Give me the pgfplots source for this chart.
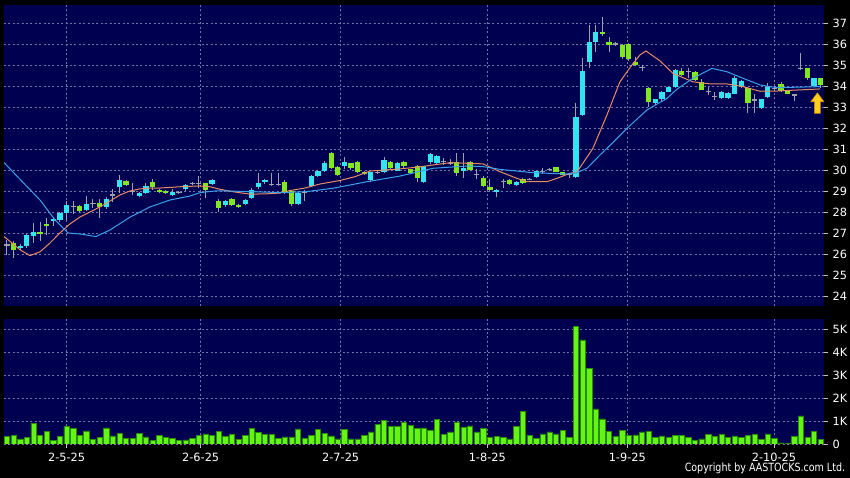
\documentclass[border=0pt]{standalone}
\usepackage{graphicx}
\usepackage{pgfplots}
\pgfplotsset{compat=1.18}
\usepackage{pgfplotstable}
\usepackage{fontspec}
\setmainfont{DejaVu Sans}
\definecolor{navy}{RGB}{0,0,80}
\definecolor{cyanC}{RGB}{50,228,240}
\definecolor{limeC}{RGB}{128,232,32}
\definecolor{wick}{RGB}{160,160,170}
\definecolor{gridc}{RGB}{115,115,165}
\definecolor{maO}{RGB}{232,140,100}
\definecolor{maB}{RGB}{60,160,235}
\definecolor{volG}{RGB}{100,245,20}
\definecolor{volE}{RGB}{40,140,0}
\definecolor{arrowY}{RGB}{255,205,30}
\definecolor{arrowO}{RGB}{200,130,0}

\pgfplotstableread{
i O H L C
0 26.43 26.67 25.95 26.43
1 26.54 26.62 25.80 26.19
2 26.30 26.45 26.20 26.40
3 26.37 26.95 26.30 26.88
4 26.86 27.46 26.50 27.03
5 27.06 27.50 26.60 26.98
6 27.44 27.70 26.90 27.35
7 27.56 27.75 27.35 27.68
8 27.60 28.00 27.50 27.94
9 27.95 28.52 27.62 28.33
10 28.25 28.52 27.90 28.25
11 28.29 28.35 27.95 28.05
12 28.10 28.76 28.05 28.37
13 28.41 28.60 28.20 28.41
14 28.41 28.60 27.70 28.22
15 28.22 28.70 28.15 28.62
16 28.81 29.08 28.49 28.81
17 29.17 29.76 28.89 29.52
18 29.46 29.50 29.25 29.28
19 28.97 29.37 28.81 28.97
20 28.77 28.95 28.70 28.89
21 28.89 29.40 28.85 29.25
22 29.41 29.55 29.05 29.21
23 29.06 29.10 28.90 28.96
24 29.02 29.05 28.85 28.90
25 28.82 29.10 28.78 28.96
26 28.92 29.00 28.85 28.92
27 29.07 29.33 29.00 29.28
28 29.37 29.42 29.30 29.37
29 29.37 29.71 29.13 29.37
30 29.37 29.40 28.67 29.06
31 29.31 29.58 29.27 29.50
32 28.52 28.60 28.00 28.21
33 28.31 28.55 28.25 28.50
34 28.60 28.65 28.30 28.33
35 28.33 28.36 28.18 28.22
36 28.37 28.62 28.33 28.57
37 28.65 29.15 28.60 29.05
38 29.18 29.84 29.10 29.37
39 29.41 29.55 29.35 29.50
40 29.29 29.84 29.25 29.29
41 29.30 29.84 29.25 29.30
42 29.44 29.50 28.85 28.89
43 29.02 29.05 28.29 28.39
44 28.38 29.00 28.35 28.89
45 28.94 29.05 28.50 28.94
46 29.22 29.75 29.20 29.71
47 29.71 30.00 29.68 29.95
48 29.95 30.45 29.90 30.32
49 30.79 30.85 30.05 30.10
50 30.16 30.20 29.70 29.76
51 30.20 30.60 30.05 30.37
52 30.32 30.35 30.00 30.08
53 30.40 30.45 29.85 29.89
54 29.92 29.95 29.75 29.80
55 29.50 29.92 29.45 29.89
56 29.88 29.95 29.80 29.88
57 29.89 30.60 29.85 30.46
58 30.40 30.45 30.05 30.10
59 29.97 30.40 29.95 30.32
60 30.40 30.45 30.10 30.18
61 30.03 30.05 29.80 29.86
62 30.20 30.25 29.45 29.60
63 29.45 30.20 29.40 30.17
64 30.36 30.80 30.30 30.75
65 30.32 30.70 30.28 30.65
66 30.40 30.55 30.25 30.40
67 30.32 30.50 30.25 30.32
68 30.36 30.80 29.70 29.84
69 29.96 30.82 29.60 30.10
70 30.40 30.45 29.95 29.98
71 29.80 30.05 29.55 29.80
72 29.64 29.70 29.20 29.22
73 29.20 29.56 29.00 29.05
74 28.98 29.10 28.70 29.05
75 29.47 29.56 29.13 29.47
76 29.53 29.56 29.30 29.32
77 29.28 29.46 29.25 29.43
78 29.57 29.60 29.33 29.36
79 29.56 29.60 29.50 29.56
80 29.65 29.96 29.60 29.93
81 29.92 30.10 29.80 29.92
82 30.02 30.10 29.95 30.02
83 30.12 30.15 29.90 29.92
84 29.89 29.92 29.75 29.78
85 29.77 29.82 29.60 29.77
86 29.68 33.18 29.60 32.51
87 32.62 35.32 32.55 34.71
88 35.16 36.90 34.87 36.12
89 36.11 36.90 35.63 36.56
90 36.56 37.27 36.40 36.47
91 36.11 36.35 35.63 35.94
92 36.00 36.10 35.90 36.00
93 35.95 36.00 35.30 35.40
94 36.00 36.05 35.20 35.27
95 35.15 35.40 34.95 35.00
96 34.87 35.00 34.72 34.87
97 33.90 33.95 33.00 33.24
98 33.18 33.40 33.10 33.37
99 33.37 33.76 33.30 33.73
100 33.73 33.97 33.70 33.94
101 33.94 34.80 33.90 34.76
102 34.73 34.85 34.50 34.52
103 34.68 34.85 34.40 34.68
104 34.68 34.72 34.25 34.29
105 34.21 34.35 33.80 33.83
106 33.75 33.95 33.55 33.75
107 33.50 33.70 33.35 33.50
108 33.45 33.78 33.40 33.73
109 33.41 33.72 33.38 33.68
110 33.63 34.50 33.60 34.37
111 33.93 34.28 33.90 34.24
112 33.89 33.93 32.70 33.18
113 33.33 33.60 32.70 33.33
114 32.94 33.40 32.90 33.37
115 33.50 34.15 33.45 33.97
116 33.90 34.00 33.75 33.90
117 34.11 34.20 33.70 33.75
118 33.77 33.80 33.60 33.62
119 33.57 33.60 33.30 33.57
120 34.84 35.56 34.75 34.84
121 34.84 34.88 34.30 34.37
122 34.00 34.40 33.95 34.37
123 34.37 34.40 33.90 34.05
}\candles

\pgfplotstableread{
i V
0 0.34
1 0.36
2 0.22
3 0.29
4 0.90
5 0.39
6 0.54
7 0.15
8 0.34
9 0.76
10 0.69
11 0.36
12 0.57
13 0.20
14 0.29
15 0.70
16 0.35
17 0.45
18 0.23
19 0.23
20 0.45
21 0.31
22 0.15
23 0.39
24 0.29
25 0.25
26 0.15
27 0.18
28 0.25
29 0.36
30 0.44
31 0.38
32 0.54
33 0.32
34 0.41
35 0.20
36 0.39
37 0.67
38 0.50
39 0.41
40 0.41
41 0.25
42 0.31
43 0.31
44 0.66
45 0.25
46 0.36
47 0.63
48 0.45
49 0.35
50 0.22
51 0.64
52 0.22
53 0.22
54 0.36
55 0.53
56 0.85
57 1.02
58 0.76
59 0.76
60 0.93
61 0.80
62 0.67
63 0.70
64 0.58
65 1.09
66 0.41
67 0.53
68 0.95
69 0.73
70 0.79
71 0.53
72 0.69
73 0.29
74 0.32
75 0.29
76 0.22
77 0.76
78 1.43
79 0.38
80 0.23
81 0.44
82 0.53
83 0.44
84 0.58
85 0.29
86 5.15
87 4.55
88 3.30
89 1.53
90 1.10
91 0.55
92 0.34
93 0.58
94 0.38
95 0.40
96 0.53
97 0.55
98 0.30
99 0.35
100 0.28
101 0.37
102 0.37
103 0.30
104 0.16
105 0.22
106 0.42
107 0.32
108 0.42
109 0.29
110 0.35
111 0.30
112 0.36
113 0.42
114 0.20
115 0.44
116 0.25
117 0.05
118 0.02
119 0.32
120 1.23
121 0.28
122 0.55
123 0.20
}\volumes

\pgfplotsset{chartax/.style={
  scale only axis, width=615pt, xmin=-0.45, xmax=123.5,
  axis background/.style={fill=navy},
  axis line style={draw=none},
  ytick pos=right, yticklabel pos=right,
  tick align=outside, major tick length=3pt,
  tick style={color=white!75!black, line width=0.6pt},
  ticklabel style={font=\fontsize{8.5}{10}\selectfont, text=white},
  /pgf/number format/assume math mode=true,
  xmajorgrids=true, ymajorgrids=true,
  major grid style={dash pattern=on 1.5pt off 1.8pt, draw=gridc, line width=0.5pt},
  xtick={9.02,29.28,50.44,72.6,93.76,115.93},
}}

\begin{document}
\begin{tikzpicture}
\useasboundingbox (0,0) rectangle (637.5pt,358.5pt);
\fill[black] (0,0) rectangle (637.5pt,358.5pt);

% ---------- price panel ----------
\begin{axis}[chartax, at={(3pt,129pt)}, anchor=south west, height=225.75pt,
  ymin=23.52, ymax=37.86, ytick={24,25,...,37},
  xticklabels={}, xtick style={draw=none}]
  % wicks
  \addplot[draw=none, mark=none, forget plot,
    error bars/.cd, y dir=both, y explicit, error mark=none,
    error bar style={draw=wick, draw opacity=1, line width=0.75pt, solid}]
    table[x=i, y expr={(\thisrow{H}+\thisrow{L})/2}, y error expr={(\thisrow{H}-\thisrow{L})/2}] {\candles};
  % rising bodies
  \addplot[draw=none, mark=none, forget plot,
    restrict expr to domain={\thisrow{C}-\thisrow{O}}{0.001:100},
    error bars/.cd, y dir=both, y explicit, error mark=none,
    error bar style={draw=cyanC, draw opacity=1, line width=3.9pt, solid}]
    table[x=i, y expr={(\thisrow{O}+\thisrow{C})/2}, y error expr={abs(\thisrow{C}-\thisrow{O})/2}] {\candles};
  % falling bodies
  \addplot[draw=none, mark=none, forget plot,
    restrict expr to domain={\thisrow{O}-\thisrow{C}}{0.001:100},
    error bars/.cd, y dir=both, y explicit, error mark=none,
    error bar style={draw=limeC, draw opacity=1, line width=3.9pt, solid}]
    table[x=i, y expr={(\thisrow{O}+\thisrow{C})/2}, y error expr={abs(\thisrow{C}-\thisrow{O})/2}] {\candles};
  % unchanged (doji)
  \addplot[only marks, mark=-, mark size=1.95pt, forget plot,
    mark options={draw=wick, line width=0.9pt},
    restrict expr to domain={\thisrow{C}-\thisrow{O}}{-0.001:0.001}]
    table[x=i, y=C] {\candles};
  % 10-day average
  \addplot[maO, line width=0.75pt, mark=none] coordinates {
    (-0.45,26.83) (0.45,26.6) (1.96,26.2) (3.48,25.92) (4.99,26.1) (6.5,26.52)
    (8.01,27.0) (9.52,27.43) (11.03,27.76) (12.55,28.0) (14.06,28.24) (15.57,28.52)
    (17.08,28.81) (18.59,29.0) (20.1,29.1) (21.61,29.14) (23.13,29.14) (26.15,29.2)
    (29.17,29.24) (30.68,29.2) (32.19,29.08) (34.46,28.95) (36.73,28.85) (38.99,28.86)
    (41.26,28.9) (42.78,29.02) (45.04,29.14) (47.31,29.33) (50.33,29.5) (52.6,29.68)
    (54.87,29.95) (57.13,30.0) (59.4,30.05) (62.42,30.15) (66.96,30.35) (71.95,30.29)
    (74.52,29.92) (77.09,29.6) (78.6,29.44) (81.62,29.44) (83.13,29.6) (85.1,29.84)
    (86.15,29.9) (88.57,31.03) (90.69,32.62) (92.65,34.2) (94.46,35.0) (95.68,35.48)
    (96.58,35.67) (98.7,35.2) (100.67,34.6) (103.69,34.2) (106.26,34.1) (108.83,34.1)
    (111.25,33.97) (113.82,33.75) (116.38,33.76) (118.8,33.8) (122.88,33.86)
  };
  % 20-day average
  \addplot[maB, line width=0.75pt, mark=none] coordinates {
    (-0.45,30.35) (1.96,29.56) (4.99,28.57) (7.26,27.62) (9.22,27.0) (11.03,26.95)
    (13.45,26.83) (15.57,27.14) (18.59,27.75) (21.61,28.24) (24.64,28.57) (27.66,28.76)
    (29.17,28.92) (31.74,29.01) (36.73,28.97) (41.72,28.92) (45.34,28.97) (49.27,29.13)
    (54.41,29.44) (59.4,29.71) (64.39,30.08) (69.53,30.19) (71.95,30.16) (74.52,30.03)
    (79.5,29.87) (84.64,29.81) (86.15,29.87) (87.67,30.08) (89.63,30.71) (90.69,31.03)
    (93.71,31.98) (96.74,32.86) (99.76,33.41) (101.27,33.85) (103.69,34.37) (106.56,34.84)
    (108.83,34.68) (111.25,34.37) (113.82,34.05) (116.38,33.92) (118.8,33.94) (122.88,33.97)
  };
  % marker arrow at the latest bar
  \addplot[fill=arrowY, draw=arrowO, line width=0.4pt] coordinates {
    (122.5,33.68) (123.5,33.25) (122.95,33.25) (122.95,32.7) (122.05,32.7)
    (122.05,33.25) (121.5,33.25) (122.5,33.68)
  };
\end{axis}

% ---------- volume panel ----------
\begin{axis}[chartax, at={(3pt,25.5pt)}, anchor=south west, height=93.75pt,
  ymin=0, ymax=5.46, ytick={0,1,2,3,4,5},
  yticklabels={0,1K,2K,3K,4K,5K},
  xtick pos=bottom,
  xticklabels={2-5-25,2-6-25,2-7-25,1-8-25,1-9-25,2-10-25}]
  \addplot[ybar, bar width=4.0pt, fill=volG, draw=volE, line width=0.4pt]
    table[x=i, y=V] {\volumes};
\end{axis}

\node[anchor=south east, text=white, inner sep=0pt]
  at (634pt,3pt) {\scalebox{0.84}[1]{\fontsize{8.5}{10}\selectfont Copyright by AASTOCKS.com Ltd.}};
\end{tikzpicture}
\end{document}
